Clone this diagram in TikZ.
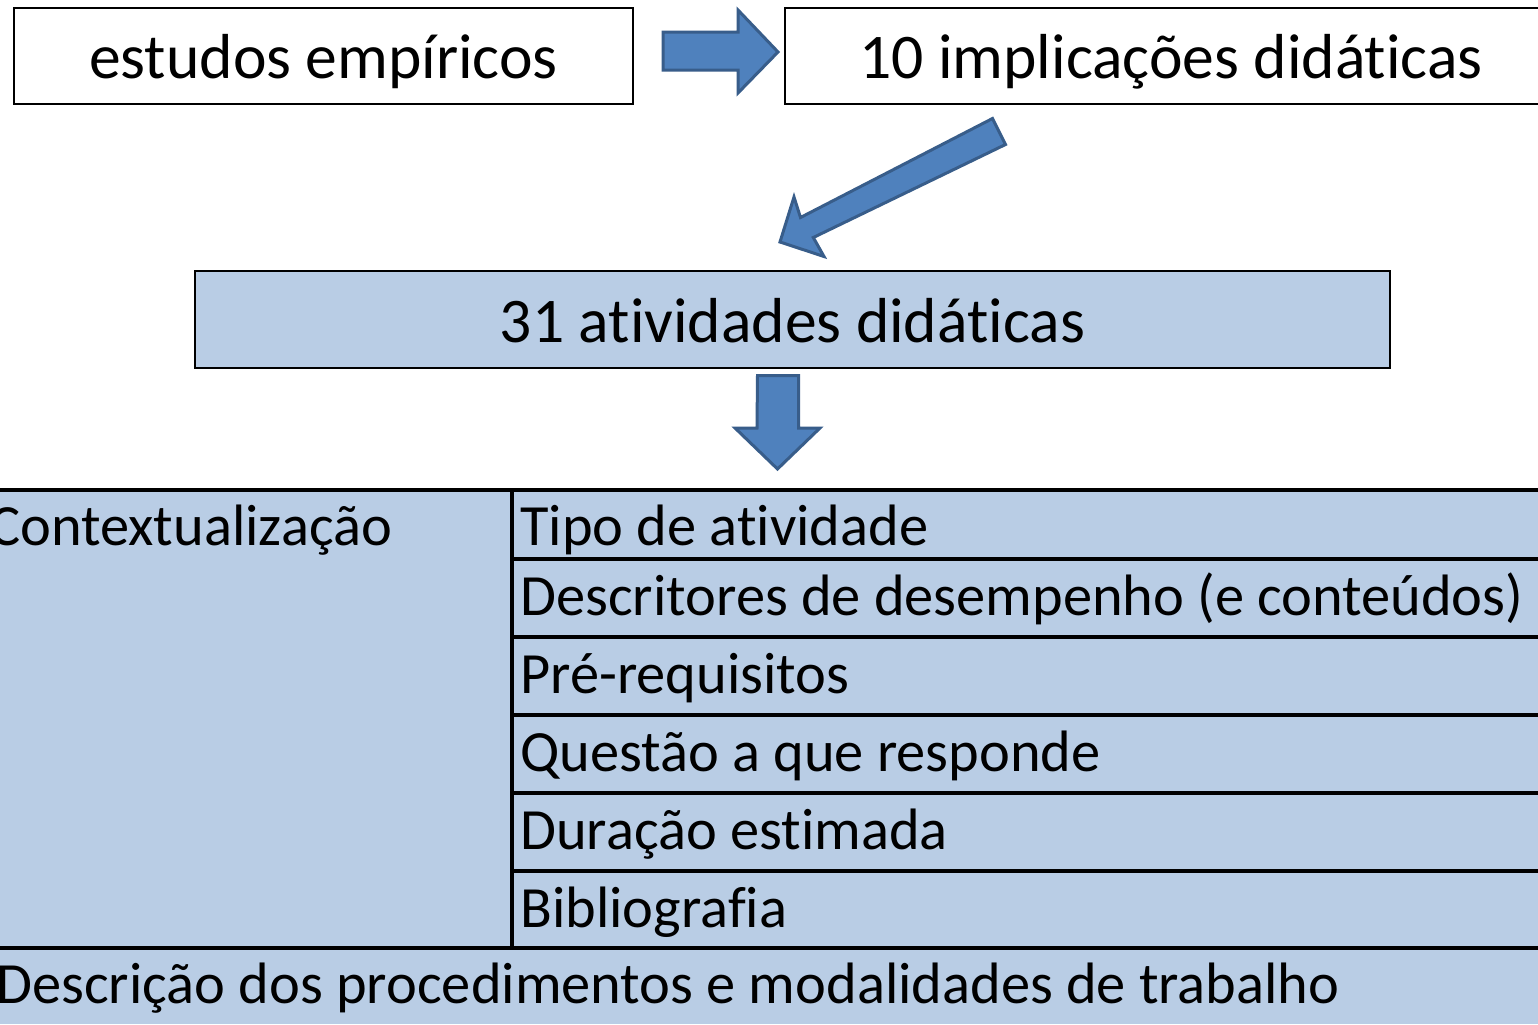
\documentclass[tikz,border=0pt]{standalone}
\usepackage{fontspec}
\setmainfont{Carlito}[Ligatures={NoCommon}]
\definecolor{lblue}{HTML}{B9CDE5}
\definecolor{afill}{HTML}{4F81BD}
\definecolor{aline}{HTML}{385D8A}
\begin{document}
\begin{tikzpicture}[x=0.5pt,y=-0.5pt,
  txtbig/.style={font=\fontsize{31.8}{36}\selectfont, inner sep=0pt},
  txttab/.style={font=\fontsize{29.2}{34}\selectfont, inner sep=0pt, anchor=base west},
  blockarrow/.style={fill=afill, draw=aline, line width=1.5pt, line join=miter},
  tabline/.style={line width=1.6pt, black},
  boxline/.style={line width=0.75pt, black}]
\clip (0,0) rectangle (1538,1024);
\fill[white] (0,0) rectangle (1538,1024);
% top boxes
\draw[boxline] (14,8) rectangle (633,104);
\node[txtbig, anchor=base] (emp) at (323.5,78) {estudos empíricos};
\draw[boxline] (785,8) rectangle (1560,104);
\node[txtbig, anchor=base] (impl) at (1171,78) {10 implicações didáticas};
% right arrow
\draw[blockarrow] (663,32) -- (738,32) -- (738,10) -- (778,52) -- (738,93) -- (738,70) -- (663,70) -- cycle;
% diagonal arrow
\draw[blockarrow] (992.5,118.5) -- (1005.5,144.5) -- (813.3,237.5) -- (824,256.5) -- (780,242) -- (794,197) -- (800.5,217.5) -- cycle;
% middle box
\draw[boxline, fill=lblue] (195,271) rectangle (1390,368);
\node[txtbig, anchor=base] (ativ) at (792.5,342) {31 atividades didáticas};
% down arrow
\draw[blockarrow] (757.5,375.5) -- (798.5,375.5) -- (798.5,428) -- (820,428) -- (777.5,469) -- (735,428) -- (757,428) -- cycle;
% table
\fill[lblue] (0,490) rectangle (1538,1024);
\draw[tabline] (0,490) -- (1538,490);
\draw[tabline] (0,948) -- (1538,948);
\draw[tabline] (512,490) -- (512,948);
\foreach \yy in {559,637,715,793,871} \draw[tabline] (512,\yy) -- (1538,\yy);
\node[txttab] (ctx) at (-11,545) {Contextualização};
\node[txttab] (tipo) at (520,545) {Tipo de atividade};
\node[txttab] (desc) at (520,615) {Descritores de desempenho (e conteúdos)};
\node[txttab] (pre) at (520,693) {Pré-requisitos};
\node[txttab] (quest) at (520,771) {Questão a que responde};
\node[txttab] (dur) at (520,849) {Duração estimada};
\node[txttab] (bib) at (520,927) {Bibliografia};
\node[txttab] (proc) at (-4,1003) {Descrição dos procedimentos e modalidades de trabalho};
\end{tikzpicture}
\end{document}
